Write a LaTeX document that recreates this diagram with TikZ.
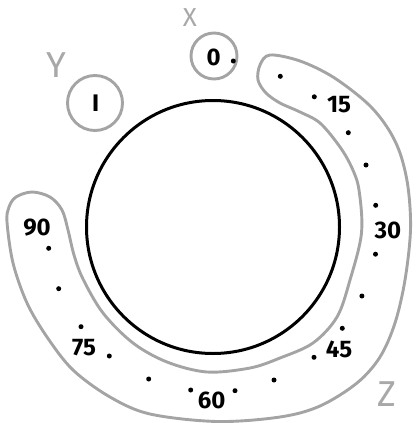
\documentclass[tikz,border=0pt]{standalone}
\usepackage{fontspec}
\setmainfont{Fira Sans}
\definecolor{ring}{HTML}{A4A4A4}
\definecolor{letter}{HTML}{A8A8A8}
\begin{document}
\begin{tikzpicture}[x=1pt,y=-1pt,
  graystroke/.style={draw=ring,line width=2.9pt},
  numlabel/.style={font=\fontsize{24}{24}\selectfont\bfseries,text=black,inner sep=0pt},
  axislabel/.style={font=\fontsize{36}{36}\selectfont,text=letter,inner sep=0pt},
  tickdot/.style={circle,fill=black,inner sep=0pt,minimum size=5pt}]
\useasboundingbox (0,0) rectangle (415,423);
% band
\draw[graystroke] plot[smooth cycle,tension=0.55] coordinates {
 (270,55) (300,61) (333,77) (367,103) (387,127) (400,153) (408,187) (410.5,230)
 (405,280) (395,323) (380,357) (357,383) (320,406) (280,417) (217,421.5) (150,414)
 (110,397) (73,370) (47,337) (27,303) (13,263) (7,222) (9,207) (16,197) (32,192)
 (50,197) (62,210) (68,230) (74,255) (83,279) (103,313) (133,343) (167,362) (207,372)
 (250,368) (280,358) (313,343) (337,317) (350,280) (361.5,233) (359,190) (352,168)
 (340,147) (320,123) (300,112) (280,103) (266,93) (258,80) (260,65)};
% main circle
\node[circle,draw=black,line width=3pt,minimum size=253pt,inner sep=0pt] (dial) at (213,227) {};
% small circles
\node[circle,graystroke,minimum size=46pt,inner sep=0pt] (xc) at (214,56) {};
\node[circle,graystroke,minimum size=55pt,inner sep=0pt] (yc) at (95,103) {};
% labels inside small circles
\node[numlabel] (n0) at (213.7,57.3) {0};
\node[numlabel] (nI) at (95.7,103) {I};
% axis letters
\node[axislabel,font=\fontsize{26}{26}\selectfont] (lx) at (190,18) {X};
\node[axislabel] (ly) at (56.7,65.5) {Y};
\node[axislabel] (lz) at (386.7,394.5) {Z};
% numbers
\node[numlabel] (n15) at (339,105) {15};
\node[numlabel] (n30) at (388,230) {30};
\node[numlabel] (n45) at (339,349.5) {45};
\node[numlabel] (n60) at (211.7,400.8) {60};
\node[numlabel] (n75) at (84,348) {75};
\node[numlabel] (n90) at (37,227.7) {90};
% dots
\foreach \p [count=\i] in {(233.3,61),(280.3,76.3),(314.3,96.8),(348.3,132.7),(366,165),(375.7,205.3),
  (375.5,254.2),(361.9,296),(342.3,328.3),(314,357.3),(274,380),(235,390.7),
  (190.7,390),(148.7,379),(109.3,356),(81,326.7),(58.7,288.7),(48.7,248.3)}
  \node[tickdot] (d\i) at \p {};
\end{tikzpicture}
\end{document}
